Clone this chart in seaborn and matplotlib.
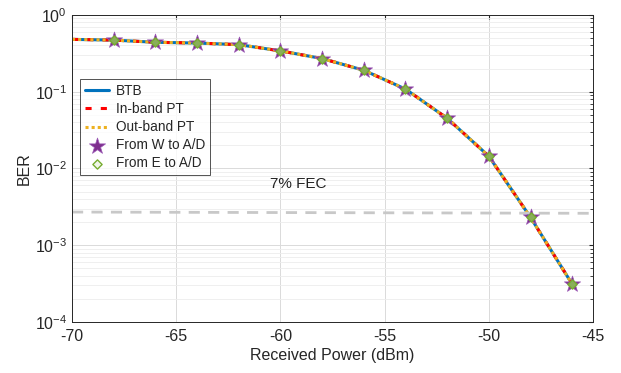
import numpy as np
import pandas as pd
import seaborn as sns
import matplotlib.pyplot as plt
from matplotlib.ticker import LogLocator, NullFormatter

sns.set_style("white")
plt.rcParams['font.family'] = ['Liberation Sans', 'DejaVu Sans']
plt.rcParams['axes.unicode_minus'] = False

# 数据
power = [-70, -68, -66, -64, -62, -60, -58, -56, -54, -52, -50, -48, -46]
ber_btb = [0.48, 0.47, 0.44, 0.43, 0.41, 0.34, 0.27, 0.19, 0.108, 0.045, 0.0144, 0.0023, 0.00031]
ber_inband = [0.48, 0.47, 0.44, 0.43, 0.41, 0.34, 0.27, 0.19, 0.108, 0.045, 0.0144, 0.0023, 0.00031]
ber_outband = [0.48, 0.47, 0.44, 0.43, 0.41, 0.34, 0.27, 0.19, 0.108, 0.045, 0.0144, 0.0023, 0.00031]
power_marker = [-68, -66, -64, -62, -60, -58, -56, -54, -52, -50, -48, -46]
ber_w = [0.47, 0.44, 0.43, 0.41, 0.34, 0.27, 0.19, 0.108, 0.045, 0.0144, 0.0023, 0.00031]
ber_e = [0.47, 0.44, 0.43, 0.41, 0.34, 0.27, 0.19, 0.108, 0.045, 0.0144, 0.0023, 0.00031]
fec_x = [-70, -45]
fec_y = [2.7e-3, 2.6e-3]

df = pd.DataFrame({'power': power, 'btb': ber_btb, 'inband': ber_inband, 'outband': ber_outband})
dm = pd.DataFrame({'power': power_marker, 'w': ber_w, 'e': ber_e})

fig = plt.figure(figsize=(6.21, 3.73), dpi=100)
ax = fig.add_axes([0.116, 0.137, 0.839, 0.823])

sns.lineplot(data=df, x='power', y='btb', ax=ax, color='#0072BD', lw=2.2, label='BTB')
sns.lineplot(data=df, x='power', y='inband', ax=ax, color='#FF0000', lw=2.2, ls=(0, (2, 3)), label='In-band PT')
sns.lineplot(data=df, x='power', y='outband', ax=ax, color='#EDB120', lw=2.2, ls=(0, (1, 1)), label='Out-band PT')
sns.scatterplot(data=dm, x='power', y='w', ax=ax, marker='*', s=150, color='#7E2F8E',
                edgecolor='#9B59B6', linewidth=0.5, label='From W to A/D', zorder=4)
sns.scatterplot(data=dm, x='power', y='e', ax=ax, marker='D', s=22, color='#8AAE5A',
                edgecolor='#77AC30', linewidth=1.0, label='From E to A/D', zorder=5)
ax.plot(fec_x, fec_y, color='#C8C8C8', lw=2, ls=(0, (4, 3)))
ax.text(-60.5, 6.3e-3, '7% FEC', fontsize=11, color='#222222', va='center')

ax.set_yscale('log')
ax.set_xlim(-70, -45)
ax.set_ylim(1e-4, 1)
ax.set_xticks([-70, -65, -60, -55, -50, -45])
ax.yaxis.set_major_locator(LogLocator(base=10, numticks=10))
ax.yaxis.set_minor_locator(LogLocator(base=10, subs=np.arange(2, 10), numticks=10))
ax.yaxis.set_minor_formatter(NullFormatter())
ax.grid(True, which='major', color='#DADADA', lw=0.7)
ax.grid(True, which='minor', axis='y', color='#EDEDED', lw=0.6)
ax.tick_params(axis='both', which='both', direction='in', top=True, right=True,
               labelsize=11.5, colors='#262626', length=3)
ax.tick_params(axis='x', pad=5)
ax.tick_params(axis='both', which='minor', length=2)
for sp in ax.spines.values():
    sp.set_color('#262626')
    sp.set_linewidth(0.7)
ax.set_xlabel('Received Power (dBm)', fontsize=11.5, color='#262626', labelpad=3)
ax.set_ylabel('BER', fontsize=11.5, color='#262626', labelpad=2)

leg = ax.legend(loc='upper left', bbox_to_anchor=(0.015, 0.79), fontsize=9.8,
                frameon=True, fancybox=False, edgecolor='#262626', handlelength=1.8,
                handletextpad=0.5, borderpad=0.35, labelspacing=0.3, borderaxespad=0)
leg.get_frame().set_linewidth(0.7)
leg.legend_handles[4].set_facecolor('#F0F5E8')

fig.savefig('out.png', dpi=100)
